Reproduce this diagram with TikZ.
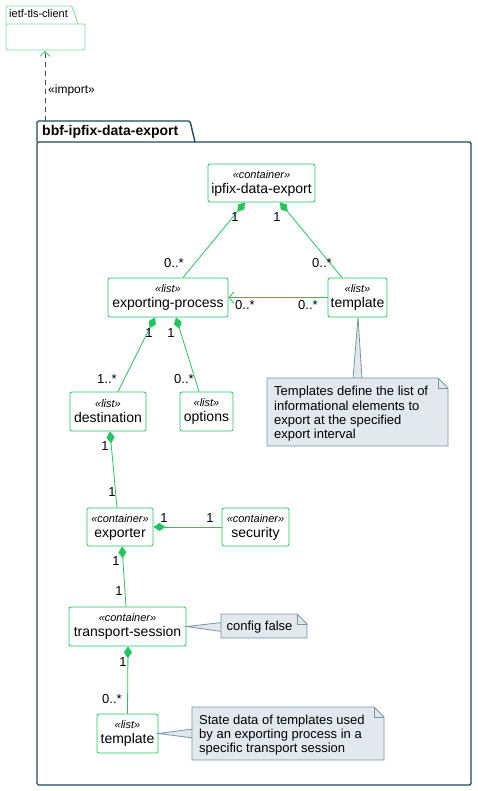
\documentclass[tikz,border=0pt]{standalone}
\usepackage{fontspec}
\setmainfont{Liberation Sans}
\usetikzlibrary{arrows.meta,calc}
\definecolor{grn}{RGB}{34,197,94}
\definecolor{pkgc}{RGB}{30,75,90}
\definecolor{lgrn}{RGB}{125,222,155}
\definecolor{notef}{RGB}{226,232,237}
\definecolor{notec}{RGB}{120,150,160}
\newcommand\stn[2]{{\fontsize{11}{15}\selectfont\itshape «#1»}\\{\fontsize{14}{15}\selectfont #2}}
\tikzset{
  cls/.style={draw=grn, fill=white, rounded corners=2pt, inner sep=0pt, align=center, line width=0.8pt, font=\fontsize{14}{15}\selectfont},
  comp/.style={draw=grn, line width=0.8pt, {Diamond[length=12pt,width=8pt,fill=grn]}-},
  assoc/.style={draw=grn, line width=0.8pt, -{Straight Barb[length=5pt,width=11pt]}},
  mult/.style={inner sep=0pt, font=\fontsize{13}{13}\selectfont},
  notebox/.style={fill=notef, draw=notec, line width=0.8pt},
  notetxt/.style={inner sep=0pt, align=left, anchor=north west, font=\fontsize{13}{14.4}\selectfont},
  pkg/.style={draw=pkgc, line width=1.4pt, rounded corners=1.5pt},
  lpkg/.style={draw=lgrn, line width=0.8pt, rounded corners=1.5pt},
}
\begin{document}
\begin{tikzpicture}[x=1pt,y=-1pt]
\useasboundingbox[fill=white] (0,0) rectangle (477,791);

% ietf-tls-client package
\draw[lpkg] (6,24) -- (6,6) -- (72,6) -- (78,24);
\draw[lpkg] (6,24) rectangle (85,50);
\node[anchor=base west, inner sep=0pt, font=\fontsize{11}{11}\selectfont] (ietfl) at (9,18) {ietf-tls-client};
\coordinate (ietfb) at (45,51);

% bbf package
\draw[pkg] (37,142) -- (37,121) -- (190,121) -- (195,142);
\draw[pkg] (37,142) rectangle (471,785);
\node[anchor=base west, inner sep=0pt, font=\bfseries\fontsize{14}{14}\selectfont] (bbfl) at (42,136) {bbf-ipfix-data-export};
\coordinate (bbft) at (45,121);

% import
\draw[draw=black!70, dashed, dash pattern=on 5pt off 4pt, line width=0.7pt, -{Straight Barb[length=5pt,width=10pt,color=grn]}] (bbft) -- (ietfb);
\node[anchor=west, inner sep=0pt, font=\fontsize{12}{12}\selectfont] (impl) at (48,90) {«import»};

% classes
\node[cls, minimum width=107pt, minimum height=38pt] (ipfix) at (261.5,183) {\stn{container}{ipfix-data-export}};
\node[cls, minimum width=120pt, minimum height=39pt] (ep) at (168,297.5) {\stn{list}{exporting-process}};
\node[cls, minimum width=59pt, minimum height=39pt] (tmpl) at (357.5,297.5) {\stn{list}{template}};
\node[cls, minimum width=76pt, minimum height=39pt] (dest) at (108,411.5) {\stn{list}{destination}};
\node[cls, minimum width=53pt, minimum height=39pt] (opt) at (206.5,411.5) {\stn{list}{options}};
\node[cls, minimum width=66pt, minimum height=38pt] (exp) at (120,527) {\stn{container}{exporter}};
\node[cls, minimum width=67pt, minimum height=38pt] (sec) at (255.5,527) {\stn{container}{security}};
\node[cls, minimum width=117pt, minimum height=39pt] (ts) at (127.5,626.5) {\stn{container}{transport-session}};
\node[cls, minimum width=61pt, minimum height=39pt] (tmpl2) at (127.5,733.5) {\stn{list}{template}};

% compositions
\draw[comp] ([xshift=-16.5pt]ipfix.south) -- ([xshift=15pt]ep.north);
\node[mult] at (235,217) {1};
\node[mult] at (174,263) {0..*};
\draw[comp] ([xshift=18.5pt]ipfix.south) -- ([xshift=-15.5pt]tmpl.north);
\node[mult] at (277,217) {1};
\node[mult] at (322,263) {0..*};

\draw[assoc] (tmpl.west) -- (ep.east);
\node[mult] at (245,305) {0..*};
\node[mult] at (308,305) {0..*};

\draw[comp] ([xshift=-13pt]ep.south) -- ([xshift=10pt]dest.north);
\node[mult] at (149,333) {1};
\node[mult] at (107,379) {1..*};
\draw[comp] ([xshift=8pt]ep.south) -- ([xshift=-7.5pt]opt.north);
\node[mult] at (171,333) {1};
\node[mult] at (184,379) {0..*};

\draw[comp] ([xshift=2pt]dest.south) -- ([xshift=-3pt]exp.north);
\node[mult] at (105,446) {1};
\node[mult] at (112,492) {1};

\draw[comp] (exp.east) -- (sec.west);
\node[mult] at (164,518) {1};
\node[mult] at (210,518) {1};

\draw[comp] ([xshift=2pt]exp.south) -- ([xshift=-1.5pt]ts.north);
\node[mult] at (116,561) {1};
\node[mult] at (119,591) {1};

\draw[comp] ([xshift=0.5pt]ts.south) -- (tmpl2.north);
\node[mult] at (123,662) {1};
\node[mult] at (112,699) {0..*};

% note 1
\draw[notebox] ([xshift=0.5pt]tmpl.south) -- (353,379) -- (362,379) -- cycle;
\draw[notebox] (267,378) -- (438,378) -- (448,388) -- (448,446) -- (267,446) -- cycle;
\draw[notec, line width=0.8pt] (438,378) -- (438,388) -- (448,388);
\node[notetxt] (n1) at (274,386) {Templates define the list of\\informational elements to\\export at the specified\\export interval};

% note config false
\draw[notebox] (ts.east) -- (222,622.5) -- (222,631.5) -- cycle;
\draw[notebox] (221,614) -- (297,614) -- (307,624) -- (307,638) -- (221,638) -- cycle;
\draw[notec, line width=0.8pt] (297,614) -- (297,624) -- (307,624);
\node[inner sep=0pt, font=\fontsize{13}{13}\selectfont] (n2) at (259.5,627) {config false};

% note 2
\draw[notebox] (tmpl2.east) -- (193,729) -- (193,738) -- cycle;
\draw[notebox] (192,707) -- (374,707) -- (384,717) -- (384,760) -- (192,760) -- cycle;
\draw[notec, line width=0.8pt] (374,707) -- (374,717) -- (384,717);
\node[notetxt] (n3) at (199,714.5) {State data of templates used\\by an exporting process in a\\specific transport session};
\end{tikzpicture}
\end{document}
